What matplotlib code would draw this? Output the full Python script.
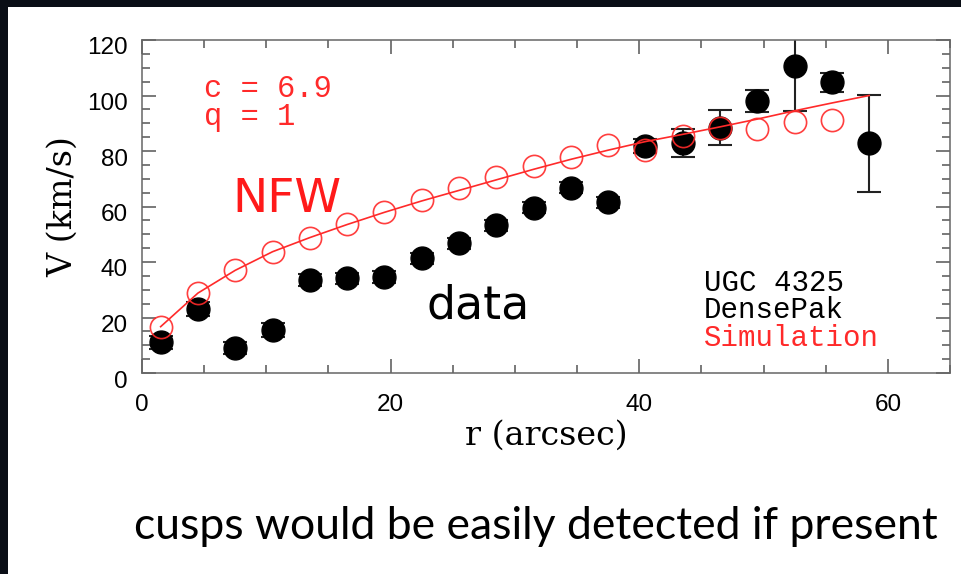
import matplotlib
matplotlib.use("Agg")
import matplotlib.pyplot as plt
import matplotlib.transforms as mtransforms
from matplotlib.patches import Rectangle
from matplotlib.ticker import MultipleLocator

# UGC 4325 DensePak rotation curve
r_data = [1.5, 4.5, 7.5, 10.5, 13.5, 16.5, 19.5, 22.5, 25.5, 28.5,
          31.5, 34.5, 37.5, 40.5, 43.5, 46.5, 49.5, 52.5, 55.5, 58.5]
v_data = [11, 23, 9, 15.5, 33.5, 34.2, 34.6, 41.4, 46.8, 53.3,
          59.5, 66.7, 61.5, 81.8, 83, 88.3, 98, 110.5, 104.7, 82.8]
v_err = [2.5, 2.5, 2, 2.5, 2, 2, 2, 2, 2, 2,
         2, 2, 2, 2.5, 5, 6.3, 4, 16, 3.5, 17.5]

# simulated NFW halo (c = 6.9, q = 1)
r_sim = [1.5, 4.5, 7.5, 10.5, 13.5, 16.5, 19.5, 22.5, 25.5, 28.5,
         31.5, 34.5, 37.5, 40.5, 43.5, 46.5, 49.5, 52.5, 55.5]
v_sim = [16.7, 28.8, 37.1, 43.7, 48.6, 53.7, 58.1, 62.3, 66.7, 70.6,
         74.6, 77.8, 82.0, 80.4, 85.4, 88.2, 87.9, 90.6, 91.2]

# NFW fit curve
r_fit = [1.5, 4.5, 7.5, 10.5, 13.5, 16.5, 19.5, 22.5, 25.5, 28.5,
         31.5, 34.5, 37.5, 40.5, 43.5, 46.5, 49.5, 52.5, 55.5, 58.5]
v_fit = [16.7, 28.8, 37.0, 43.7, 48.8, 53.5, 57.9, 62.0, 65.8, 69.6,
         73.4, 77.0, 80.3, 83.4, 86.0, 88.7, 91.5, 94.5, 97.3, 100.0]

RED = "#ff2a2a"

fig = plt.figure(figsize=(9.61, 5.74), dpi=100)
fig.patch.set_facecolor("#0a0e16")
fig.add_artist(Rectangle((8 / 961, -0.1), 2, 1.1 - 7 / 574, transform=fig.transFigure,
                         facecolor="white", edgecolor="none", zorder=0))

ax = fig.add_axes([142 / 961, 1 - 373 / 574, 808 / 961, 333 / 574])
ax.set_xlim(0, 65)
ax.set_ylim(0, 120)

ax.errorbar(r_data, v_data, yerr=v_err, fmt="o", color="black", ms=16.5,
            ecolor="#222222", elinewidth=1.5, capsize=8.3, capthick=1.5, zorder=2)
ax.plot(r_fit, v_fit, color=RED, lw=1.2, zorder=3)
ax.plot(r_sim, v_sim, "o", ms=16, mfc="none", mec=RED, mew=1.2, alpha=0.9, zorder=4)

# ticks on all four sides, pointing in
ax.xaxis.set_major_locator(MultipleLocator(20))
ax.xaxis.set_minor_locator(MultipleLocator(5))
ax.yaxis.set_major_locator(MultipleLocator(20))
ax.yaxis.set_minor_locator(MultipleLocator(5))
ax.tick_params(which="both", direction="in", top=True, right=True, color="#555555", width=1.1)
ax.tick_params(which="major", length=10, labelsize=17.5, labelfontfamily="Liberation Sans")
ax.tick_params(which="minor", length=5.5)
ax.tick_params(axis="x", which="major", pad=15)
ax.tick_params(axis="y", which="major", pad=10)
for spine in ax.spines.values():
    spine.set_color("#666666")
    spine.set_linewidth(1.1)

fig.canvas.draw()
shift = mtransforms.ScaledTranslation(0, -6 / 100, fig.dpi_scale_trans)
for tick in ax.yaxis.get_major_ticks():
    tick.label1.set_transform(tick.label1.get_transform() + shift)

ax.set_xlabel("r (arcsec)", fontfamily="DejaVu Serif", fontsize=24, labelpad=3)
ax.set_ylabel("V (km/s)", fontfamily="DejaVu Serif", fontsize=24, labelpad=6)

mono = "Liberation Mono"
ax.text(5.0, 99.5, "c = 6.9", color=RED, fontfamily=mono, fontsize=22, va="baseline")
ax.text(5.0, 89.4, "q = 1", color=RED, fontfamily=mono, fontsize=22, va="baseline")
ax.text(45.2, 29.4, "UGC 4325", color="black", fontfamily=mono, fontsize=21, va="baseline")
ax.text(45.2, 20.0, "DensePak", color="black", fontfamily=mono, fontsize=21, va="baseline")
ax.text(45.2, 9.8, "Simulation", color=RED, fontfamily=mono, fontsize=21, va="baseline")

ax.text(7.3, 58, "NFW", color="#ff1a1a", fontfamily="DejaVu Sans", fontsize=34, va="baseline")
ax.text(22.9, 19.8, "data", color="black", fontfamily="DejaVu Sans", fontsize=33, va="baseline")

fig.text(536 / 961, 1 - 539 / 574, "cusps would be easily detected if present",
         ha="center", va="baseline", fontfamily="Lato", fontsize=32, color="black")

fig.savefig("out.png", dpi=100, facecolor=fig.get_facecolor())
